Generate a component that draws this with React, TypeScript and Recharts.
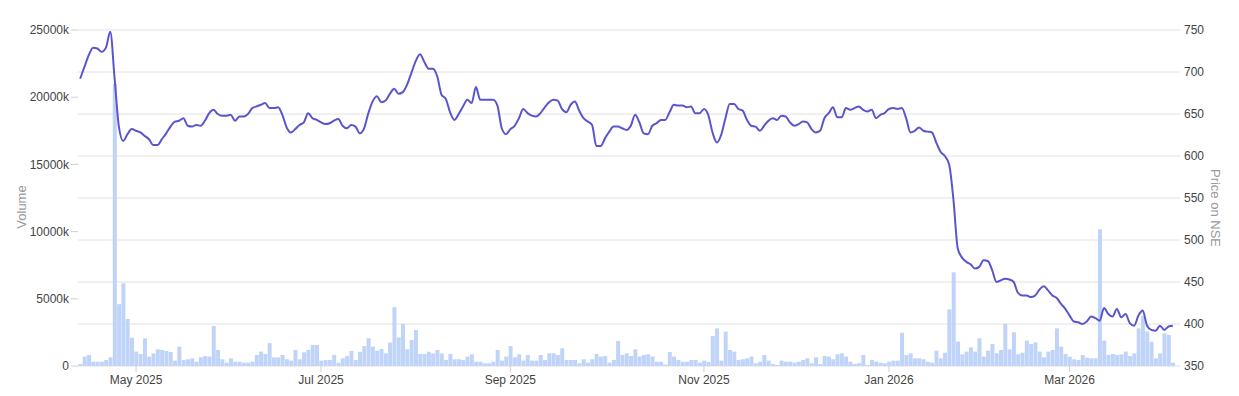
import React from 'react';
import { ComposedChart, Bar, Line, XAxis, YAxis, CartesianGrid } from 'recharts';

// one row = one trading week (Mon..Fri), starting Mon 14 Apr 2025
const volume = [
  150, 700, 820, 320, 320,
  320, 450, 650, 21000, 4600,
  6150, 3500, 2100, 1070, 900,
  2060, 700, 940, 1240, 1190,
  1120, 1040, 400, 1440, 450,
  500, 570, 320, 650, 740,
  700, 2980, 1190, 500, 250,
  570, 320, 320, 250, 250,
  320, 820, 1070, 900, 1700,
  640, 640, 820, 500, 400,
  1190, 500, 1020, 1190, 1560,
  1560, 400, 450, 450, 820,
  250, 570, 740, 1120, 450,
  1060, 1490, 2060, 1440, 1140,
  1260, 940, 1740, 4370, 2130,
  3130, 1240, 1940, 2680, 900,
  900, 1060, 940, 1190, 940,
  450, 900, 500, 500, 450,
  700, 870, 320, 320, 200,
  200, 320, 1190, 400, 700,
  1490, 650, 870, 400, 820,
  400, 400, 820, 450, 940,
  940, 820, 1320, 450, 450,
  450, 200, 500, 250, 500,
  900, 700, 740, 250, 450,
  1860, 820, 940, 740, 1240,
  700, 820, 870, 700, 320,
  320, 100, 1040, 700, 450,
  320, 320, 450, 450, 250,
  400, 300, 2230, 2800, 400,
  2560, 1190, 1070, 450, 500,
  570, 700, 200, 320, 820,
  400, 150, 75, 400, 320,
  320, 250, 320, 450, 570,
  200, 650, 150, 740, 700,
  500, 870, 940, 700, 320,
  150, 200, 820, 75, 450,
  320, 250, 200, 320, 400,
  400, 2480, 820, 940, 570,
  570, 500, 320, 250, 1140,
  570, 990, 4220, 6970, 1810,
  870, 1070, 1390, 1070, 2060,
  700, 1140, 1640, 940, 1190,
  3130, 1240, 2510, 870, 990,
  1890, 1640, 1760, 1070, 650,
  1070, 1190, 2800, 1440, 890,
  690, 500, 450, 820, 620,
  570, 570, 10170, 1890, 820,
  890, 820, 870, 1070, 740,
  940, 2800, 3720, 2560, 1810,
  570, 940, 2430, 2310, 250,
];

const price = [
  692, 706, 720, 729, 728,
  724, 729, 748, 693, 635,
  618, 626, 632, 630, 628,
  624, 620, 613, 613, 620,
  627, 635, 641, 642, 645,
  636, 635, 637, 636, 642,
  651, 655, 650, 648, 648,
  649, 642, 647, 647, 650,
  657, 659, 661, 663, 657,
  657, 658, 649, 634, 628,
  632, 637, 640, 651, 645,
  643, 640, 638, 639, 642,
  644, 636, 633, 637, 635,
  627, 633, 651, 665, 671,
  664, 666, 674, 680, 674,
  676, 685, 699, 713, 721,
  712, 704, 704, 695, 673,
  668, 652, 643, 650, 659,
  667, 663, 682, 667, 667,
  667, 667, 660, 633, 626,
  632, 636, 645, 656, 651,
  648, 647, 651, 658, 664,
  667, 666, 656, 652, 661,
  665, 654, 645, 641, 637,
  612, 612, 621, 629, 635,
  635, 633, 631, 636, 649,
  640, 627, 626, 636, 639,
  643, 643, 652, 661, 660,
  660, 658, 659, 651, 651,
  656, 649, 628, 616, 625,
  645, 662, 662, 656, 654,
  643, 636, 635, 630, 636,
  642, 645, 643, 648, 647,
  640, 636, 638, 641, 640,
  632, 628, 630, 645, 651,
  658, 646, 646, 657, 655,
  657, 659, 655, 653, 655,
  645, 649, 651, 656, 657,
  656, 657, 645, 628, 630,
  634, 630, 629, 628, 616,
  605, 600, 590, 548, 490,
  479, 474, 471, 466, 468,
  476, 475, 464, 450, 452,
  454, 453, 450, 437, 434,
  434, 432, 434, 441, 445,
  440, 434, 431, 424, 418,
  410, 403, 402, 400, 403,
  409, 407, 404, 419, 412,
  409, 418, 408, 412, 401,
  398, 410, 416, 398, 393,
  392, 398, 393, 397, 398,
];

const xTicks = [
  { date: '2025-05-01', label: 'May 2025' },
  { date: '2025-07-01', label: 'Jul 2025' },
  { date: '2025-09-01', label: 'Sep 2025' },
  { date: '2025-11-03', label: 'Nov 2025' },
  { date: '2026-01-01', label: 'Jan 2026' },
  { date: '2026-03-02', label: 'Mar 2026' },
];
const volumeTicks = [0, 5000, 10000, 15000, 20000, 25000];
const priceTicks = [350, 400, 450, 500, 550, 600, 650, 700, 750];

// weekdays from the start date, one per value
const tradingDays = (n: number) => {
  const out: string[] = [];
  const d = new Date(Date.UTC(2025, 3, 14));
  while (out.length < n) {
    const wd = d.getUTCDay();
    if (wd !== 0 && wd !== 6) out.push(d.toISOString().slice(0, 10));
    d.setUTCDate(d.getUTCDate() + 1);
  }
  return out;
};

const dates = tradingDays(volume.length);
const data = dates.map((date, i) => ({ date, volume: volume[i], price: price[i] }));

const FONT = '"Liberation Sans", Arial, sans-serif';
const tickLabel = Object.fromEntries(xTicks.map((t) => [t.date, t.label]));

export default function App() {
  return (
    <div style={{ position: 'absolute', left: 0, top: 0, background: '#fff' }}>
      <ComposedChart
        width={1239}
        height={396}
        data={data}
        margin={{ top: 30, right: 0, bottom: 0, left: 0 }}
        barCategoryGap="9%"
      >
        <CartesianGrid yAxisId="price" vertical={false} stroke="#e2e2e2" />
        <XAxis
          dataKey="date"
          ticks={xTicks.map((t) => t.date)}
          tickFormatter={(d: string) => tickLabel[d] ?? ''}
          axisLine={false}
          tickLine={{ stroke: '#d0d0d0' }}
          tickSize={6}
          tickMargin={3}
          height={30}
          tick={{ fontSize: 12, fill: '#444', fontFamily: FONT }}
        />
        <YAxis
          yAxisId="vol"
          orientation="left"
          width={78}
          domain={[0, 25000]}
          ticks={volumeTicks}
          tickFormatter={(v: number) => (v === 0 ? '0' : `${v}k`)}
          axisLine={false}
          tickLine={{ stroke: '#d0d0d0' }}
          tickSize={7}
          tickMargin={2}
          tick={{ fontSize: 12, fill: '#444', fontFamily: FONT }}
          label={{
            content: ({ viewBox }: any) => (
              <text
                x={viewBox.x + 26}
                y={viewBox.y + viewBox.height / 2 + 9}
                transform={`rotate(-90 ${viewBox.x + 26} ${viewBox.y + viewBox.height / 2 + 9})`}
                textAnchor="middle"
                fontSize={13}
                fill="#999"
                fontFamily={FONT}
              >
                Volume
              </text>
            ),
          }}
        />
        <YAxis
          yAxisId="price"
          orientation="right"
          width={64}
          domain={[350, 750]}
          ticks={priceTicks}
          axisLine={false}
          tickLine={{ stroke: '#e2e2e2' }}
          tickSize={5}
          tickMargin={4}
          tick={{ fontSize: 12, fill: '#444', fontFamily: FONT }}
          label={{
            content: ({ viewBox }: any) => (
              <text
                x={viewBox.x + 36}
                y={viewBox.y + viewBox.height / 2 + 10}
                transform={`rotate(90 ${viewBox.x + 36} ${viewBox.y + viewBox.height / 2 + 10})`}
                textAnchor="middle"
                fontSize={13}
                fill="#999"
                fontFamily={FONT}
              >
                Price on NSE
              </text>
            ),
          }}
        />
        <Bar yAxisId="vol" dataKey="volume" fill="#bfd4f8" isAnimationActive={false} />
        <Line
          yAxisId="price"
          dataKey="price"
          type="monotone"
          stroke="#5a55cc"
          strokeWidth={2}
          dot={false}
          activeDot={false}
          isAnimationActive={false}
        />
      </ComposedChart>
    </div>
  );
}
